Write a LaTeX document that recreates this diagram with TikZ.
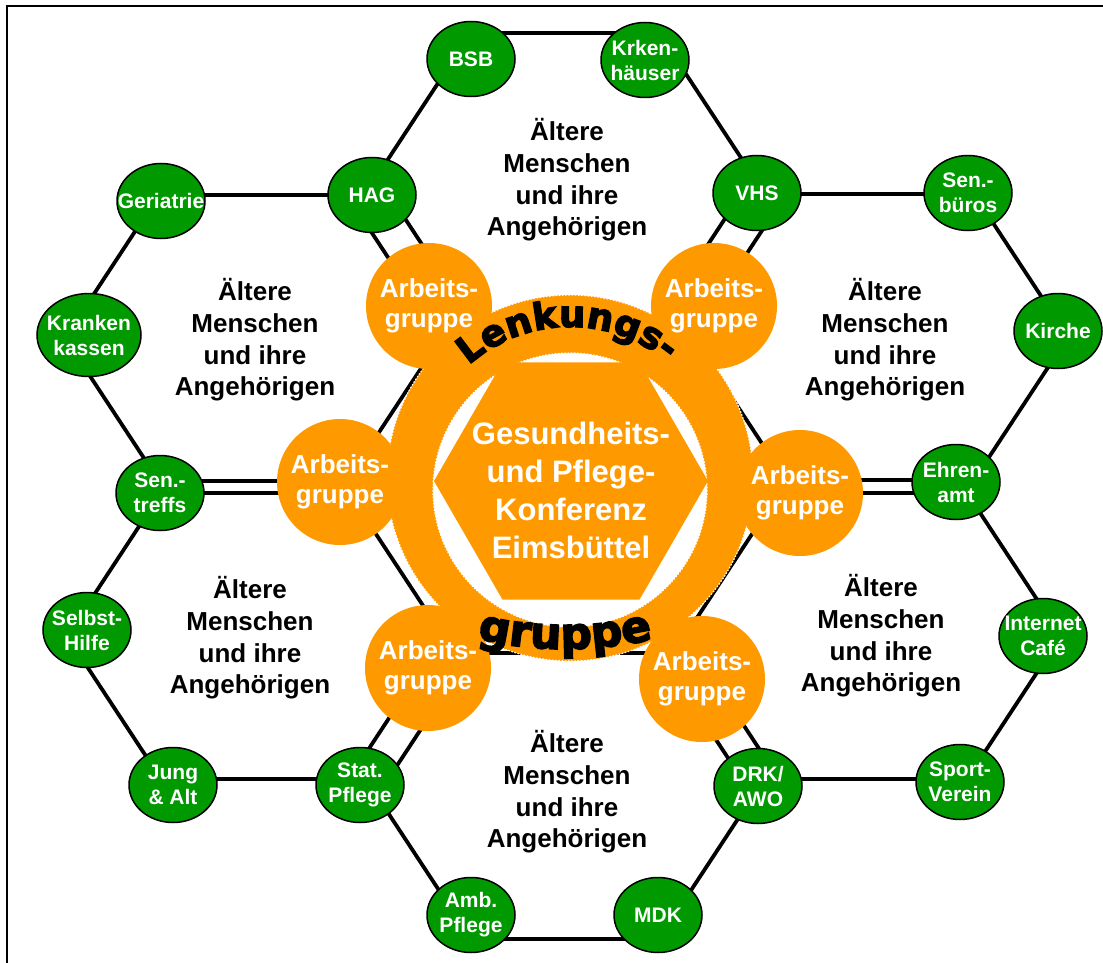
\documentclass[tikz,border=0pt]{standalone}
\usepackage{fontspec}
\setmainfont{Liberation Sans}
\newfontfamily\heavyfont[FakeBold=3.5]{DejaVu Sans}
\usetikzlibrary{shapes.geometric,decorations.text}
\definecolor{agorange}{RGB}{255,153,0}
\definecolor{partgreen}{RGB}{0,153,0}
\tikzset{
  hexline/.style={line width=1.9pt, line join=round},
  parttext/.style={text=white, align=center, inner sep=0pt, font=\bfseries\fontsize{10.5}{12.5}\selectfont},
  partner/.style={ellipse, draw=black, line width=0.75pt, fill=partgreen, minimum width=44pt, minimum height=37.5pt, inner sep=0pt, label={[parttext]center:#1}},
  agroup/.style={circle, fill=agorange, minimum size=63pt, inner sep=0pt, text=white, align=center, font=\bfseries\fontsize{13}{15}\selectfont},
  conftext/.style={text=white, align=center, inner sep=0pt, yshift=-4.5pt, font=\bfseries\fontsize{15.5}{19}\selectfont},
  oldtext/.style={align=center, inner sep=0pt, font=\bfseries\fontsize{13}{15.8}\selectfont}
}
\begin{document}
\begin{tikzpicture}[x=0.5pt, y=-0.5pt]
\useasboundingbox (0,0) rectangle (1103,963);
\draw [line width=1pt] (7,963) -- (7,6) -- (1103,6);

\coordinate (hexT) at (565,176);
\coordinate (hexUL) at (253,338);
\coordinate (hexUR) at (880,337);
\coordinate (hexLL) at (255,636);
\coordinate (hexLR) at (873,636);
\coordinate (hexB) at (565,796);
\foreach \h in {hexT,hexUL,hexUR,hexLL,hexLR,hexB}
  \draw [hexline] (\h) ++(188,0) -- ++(-94,-143) -- ++(-188,0) -- ++(-94,143) -- ++(94,143) -- ++(188,0) -- cycle;

\fill [agorange, even odd rule] (570,478) circle [radius=183] (570,490) circle [radius=137];
\draw [white, line width=0.6pt, dash pattern=on 0.8pt off 0.8pt] (570,478) circle [radius=183] (570,490) circle [radius=137];

\node (konf) [regular polygon, regular polygon sides=6, minimum size=137pt, inner sep=0pt, fill=agorange, label={[conftext]center:Gesundheits-\\und Pflege-\\Konferenz\\Eimsbüttel}] at (571,481) {};

\node (agTL) [agroup] at (429,306) {Arbeits-\\gruppe};
\node (agTR) [agroup] at (714,306) {Arbeits-\\gruppe};
\node (agL) [agroup] at (340,482) {Arbeits-\\gruppe};
\node (agR) [agroup] at (800,493) {Arbeits-\\gruppe};
\node (agBL) [agroup] at (428,668) {Arbeits-\\gruppe};
\node (agBR) [agroup] at (702,679) {Arbeits-\\gruppe};

\node (bsb) [partner=BSB] at (471,59) {};
\node (krk) [partner={Krken-\\häuser}] at (645,60) {};
\node (hag) [partner=HAG] at (372,195) {};
\node (vhs) [partner=VHS] at (757,193) {};
\node (ger) [partner=Geriatrie] at (161,201) {};
\node (senb) [partner={Sen.-\\büros}] at (968,193) {};
\node (krank) [partner={Kranken\\kassen}, minimum width=52pt, minimum height=41.5pt] at (89,335) {};
\node (kirche) [partner=Kirche] at (1058,331) {};
\node (sent) [partner={Sen.-\\treffs}] at (160,493) {};
\node (ehren) [partner={Ehren-\\amt}] at (956,482) {};
\node (selbst) [partner={Selbst-\\Hilfe}] at (87,630) {};
\node (inet) [partner={Internet\\Café}] at (1043,636) {};
\node (jung) [partner={Jung\\\& Alt}] at (173,785) {};
\node (stat) [partner={Stat.\\Pflege}] at (360,785) {};
\node (drk) [partner={DRK/\\AWO}] at (758,786) {};
\node (sport) [partner={Sport-\\Verein}] at (960,782) {};
\node (amb) [partner={Amb.\\Pflege}] at (471,915) {};
\node (mdk) [partner=MDK] at (658,915) {};

\node (oldT) [oldtext] at (567,180) {Ältere\\Menschen\\und ihre\\Angehörigen};
\node (oldUL) [oldtext] at (255,340) {Ältere\\Menschen\\und ihre\\Angehörigen};
\node (oldUR) [oldtext] at (885,340) {Ältere\\Menschen\\und ihre\\Angehörigen};
\node (oldLL) [oldtext] at (250,638) {Ältere\\Menschen\\und ihre\\Angehörigen};
\node (oldLR) [oldtext] at (881,636) {Ältere\\Menschen\\und ihre\\Angehörigen};
\node (oldB) [oldtext] at (567,792) {Ältere\\Menschen\\und ihre\\Angehörigen};

\path [decorate, decoration={text along path, text align=center, text={|\heavyfont\bfseries\fontsize{18.5}{18.5}\selectfont|Lenkungs-}}] (570,480) ++(-141:153) arc [start angle=-141, end angle=-41, radius=153];
\path [decorate, decoration={text along path, text align=center, text={|\heavyfont\bfseries\fontsize{22}{22}\selectfont|gruppe}}] (565,249) ++(105:400) arc [start angle=105, end angle=75, radius=400];
\end{tikzpicture}
\end{document}
